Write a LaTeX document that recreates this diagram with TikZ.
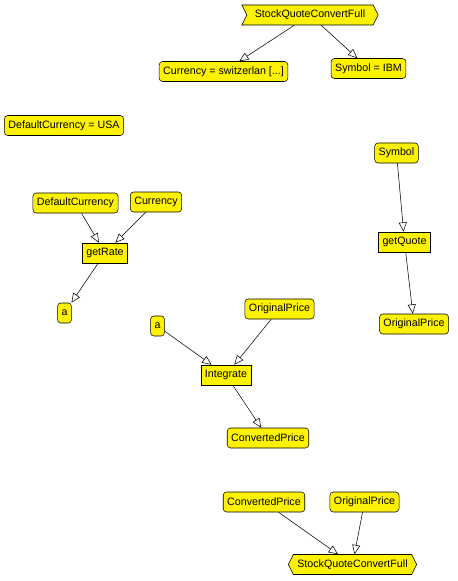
\documentclass[tikz,border=0pt]{standalone}
\usepackage{fontspec}
\setmainfont{Liberation Sans}
\usepackage{xcolor}
\usetikzlibrary{shapes,arrows.meta}

\begin{document}
\begin{tikzpicture}[x=0.75pt,y=-0.75pt]
  \useasboundingbox (0,0) rectangle (457,581);
  \tikzstyle{datum}=[rectangle,rounded corners=2.5pt,draw,fill=yellow,font=\fontsize{8}{9}\selectfont,minimum height=15pt,inner xsep=3pt,inner ysep=1pt]
  \tikzstyle{func}=[rectangle,draw,fill=yellow,font=\fontsize{8}{9}\selectfont,minimum height=15pt,inner xsep=3pt,inner ysep=1pt]
  \tikzstyle{flow}=[draw,-{Triangle[open,length=7pt,width=6pt]},thin]
  % process header and footer
  \node[func,shape=signal,signal from=west and east,signal pointer angle=127,inner xsep=6pt] (head) at (310,15) {StockQuoteConvertFull};
  \node[func,shape=signal,signal to=west and east,signal pointer angle=127,inner xsep=3pt] (foot) at (352.5,564.5) {StockQuoteConvertFull};
  % inputs
  \node[datum] (cur) at (223.5,71.5) {Currency = switzerlan [...]};
  \node[datum] (sym) at (368.5,68.5) {Symbol = IBM};
  \node[datum] (defcur) at (64,125.5) {DefaultCurrency = USA};
  % getRate
  \node[datum] (defcurin) at (75.5,203) {DefaultCurrency};
  \node[datum] (curin) at (156,202) {Currency};
  \node[func] (getrate) at (105,253) {getRate};
  \node[datum] (rate) at (64.5,313) {a};
  % getQuote
  \node[datum] (symin) at (396.5,153) {Symbol};
  \node[func] (getquote) at (404.5,242) {getQuote};
  \node[datum] (quote) at (414,324) {OriginalPrice};
  % Integrate
  \node[datum] (ratein) at (157.5,326) {a};
  \node[datum] (quotein) at (279.5,309) {OriginalPrice};
  \node[func] (integ) at (226,375) {Integrate};
  \node[datum] (conv) at (268,438) {ConvertedPrice};
  % outputs
  \node[datum] (convout) at (264,502) {ConvertedPrice};
  \node[datum] (quoteout) at (364.5,502) {OriginalPrice};

  \draw[flow] (head) -- (cur);
  \draw[flow] (head) -- (sym);
  \draw[flow] (defcurin) -- (getrate);
  \draw[flow] (curin) -- (getrate);
  \draw[flow] (getrate) -- (rate);
  \draw[flow] (symin) -- (getquote);
  \draw[flow] (getquote) -- (quote);
  \draw[flow] (ratein) -- (integ);
  \draw[flow] (quotein) -- (integ);
  \draw[flow] (integ) -- (conv);
  \draw[flow] (convout) -- (foot);
  \draw[flow] (quoteout) -- (foot);
\end{tikzpicture}
\end{document}
